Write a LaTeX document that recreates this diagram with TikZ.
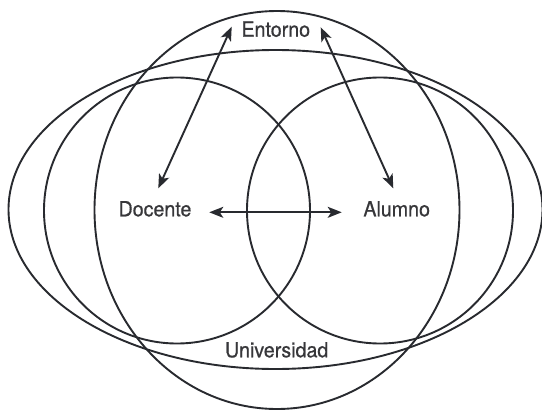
\documentclass[tikz,border=0pt]{standalone}
\usepackage{fontspec}
\setmainfont{TeX Gyre Heros}[FakeStretch=0.94,FakeBold=0.6]
\usetikzlibrary{arrows.meta,calc}
\definecolor{linec}{RGB}{40,42,47}
\definecolor{textc}{RGB}{55,55,58}
\begin{document}
\begin{tikzpicture}[x=1pt,y=-1pt,
  shapeline/.style={draw=linec,line width=1.9pt},
  labeltext/.style={text=textc,font=\fontsize{20.9}{24}\selectfont,inner sep=2pt,anchor=base},
  link/.style={draw=linec,line width=1.9pt,{Stealth[length=14pt,width=11pt,inset=3.5pt]}-{Stealth[length=14pt,width=11pt,inset=3.5pt]}}]
\useasboundingbox (0,0) rectangle (542,410);
\fill[white] (0,0) rectangle (542,410);
% shapes
\draw[shapeline] (275.5,209.5) ellipse [x radius=267, y radius=159.5];
\draw[shapeline] (277,210) ellipse [x radius=182.5, y radius=199];
\draw[shapeline] (177,210.5) circle [radius=133];
\draw[shapeline] (380,210.5) circle [radius=133];
% labels
\node[labeltext] (entorno) at (275.8,36.7) {Entorno};
\node[labeltext] (docente) at (155,216.3) {Docente};
\node[labeltext] (alumno) at (396.7,216.3) {Alumno};
\node[labeltext] (universidad) at (276.7,357.3) {Universidad};
% connectors
\draw[link] ($(entorno.base)+(-44.1,-10)$) -- ($(docente.base)+(3.3,-28)$);
\draw[link] ($(entorno.base)+(44.9,-9.4)$) -- ($(alumno.base)+(-3.4,-28)$);
\draw[link] ($(docente.base)+(54.3,-4)$) -- ($(alumno.base)+(-55,-4)$);
\end{tikzpicture}
\end{document}
